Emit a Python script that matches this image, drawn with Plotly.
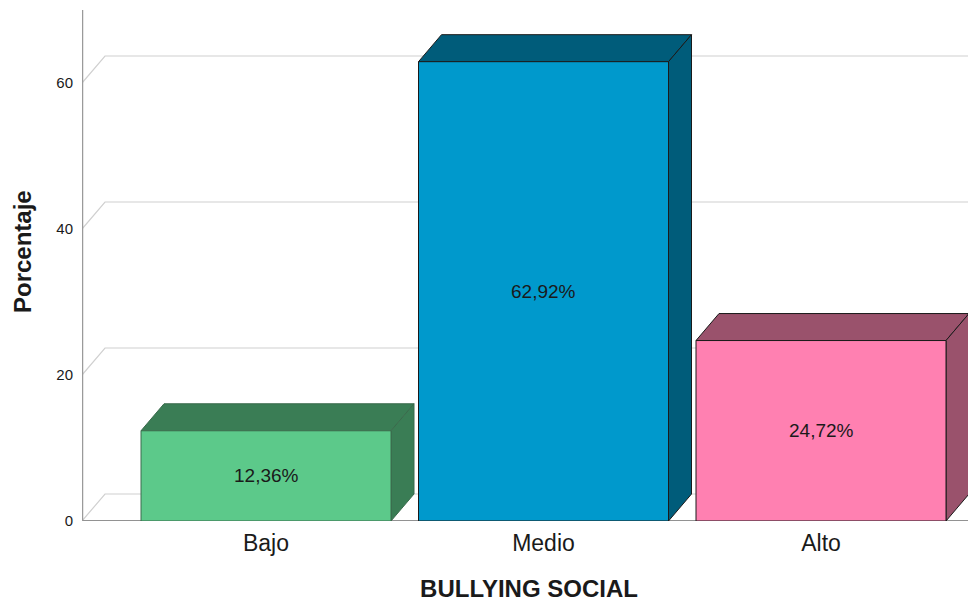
import plotly.graph_objects as go

categories = ["Bajo", "Medio", "Alto"]
values = [12.36, 62.92, 24.72]
labels = ["12,36%", "62,92%", "24,72%"]
y_ticks = [0, 20, 40, 60]
front_colors = ["#5cc98a", "#0099cc", "#ff80b1"]
dark_colors = ["#3a7d55", "#005c7a", "#9a526c"]
edge_colors = ["#3a6b4c", "#1a1a1a", "#1a1a1a"]

# page body has an 8px margin; size the figure so the plot area lands where the reference has it
OFF = 8
W, H = 976 - OFF, 602 - OFF
L, R, T, B = 82 - OFF, 0, 10 - OFF, 81
plot_w = W - L - R
plot_h = H - T - B
y_max = 70.0
px_per_cat = 277.5
x0 = -(266 - 82) / px_per_cat
x1 = x0 + plot_w / px_per_cat
bar_w = 250 / px_per_cat
dx = 23 / px_per_cat
dy = 27 / (plot_h / y_max)
grid_col = "#d0d0d0"

fig = go.Figure()

# back grid lines and diagonals
for t in y_ticks:
    fig.add_trace(go.Scatter(x=[x0, x0 + dx, x1], y=[t, t + dy, t + dy], mode="lines",
                             line=dict(color=grid_col, width=1.2), hoverinfo="skip", showlegend=False))

# front baseline
fig.add_trace(go.Scatter(x=[x0, x1], y=[0, 0], mode="lines",
                         line=dict(color="#6e6e6e", width=1.5), hoverinfo="skip", showlegend=False))

for i, v in enumerate(values):
    xl = i - bar_w / 2
    xr = i + bar_w / 2
    # top face
    fig.add_trace(go.Scatter(x=[xl, xl + dx, xr + dx, xr, xl], y=[v, v + dy, v + dy, v, v],
                             mode="lines", fill="toself", fillcolor=dark_colors[i],
                             line=dict(color=edge_colors[i], width=1), hoverinfo="skip", showlegend=False))
    # side face
    fig.add_trace(go.Scatter(x=[xr, xr + dx, xr + dx, xr, xr], y=[0, dy, v + dy, v, 0],
                             mode="lines", fill="toself", fillcolor=dark_colors[i],
                             line=dict(color=edge_colors[i], width=1), hoverinfo="skip", showlegend=False))
    # front face
    fig.add_trace(go.Scatter(x=[xl, xr, xr, xl, xl], y=[0, 0, v, v, 0],
                             mode="lines", fill="toself", fillcolor=front_colors[i],
                             line=dict(color=edge_colors[i], width=1), hoverinfo="skip", showlegend=False))
    fig.add_annotation(x=i, y=v / 2, text=labels[i], showarrow=False,
                       font=dict(family="Liberation Sans, Arial", size=19, color="#1a1a1a"))

# y axis line
fig.add_trace(go.Scatter(x=[x0, x0], y=[0, y_max], mode="lines",
                         line=dict(color="#9a9a9a", width=2.5), hoverinfo="skip", showlegend=False))

# y axis title
fig.add_annotation(xref="paper", yref="paper", x=0, y=(521 - 252) / (521 - 10),
                   xshift=-60, xanchor="center", yanchor="middle", textangle=-90,
                   text="<b>Porcentaje</b>", showarrow=False,
                   font=dict(family="Liberation Sans, Arial", size=24, color="#1a1a1a"))

fig.update_layout(
    width=W, height=H,
    margin=dict(l=L, r=R, t=T, b=B, pad=0),
    plot_bgcolor="white", paper_bgcolor="white",
    font=dict(family="Liberation Sans, Arial", color="#1a1a1a"),
    xaxis=dict(range=[x0, x1], tickmode="array", tickvals=list(range(len(categories))),
               ticktext=categories, showgrid=False, zeroline=False, showline=False,
               tickfont=dict(size=23, color="#1a1a1a"), ticks="", ticklen=0,
               ticklabelstandoff=6,
               title=dict(text="<b>BULLYING SOCIAL</b>", font=dict(size=24), standoff=25)),
    yaxis=dict(range=[0, y_max], tickmode="array", tickvals=y_ticks,
               showgrid=False, zeroline=False, showline=False, ticks="",
               tickfont=dict(size=15, color="#1a1a1a"), ticklabelstandoff=8),
)

fig.write_html("out.html")
